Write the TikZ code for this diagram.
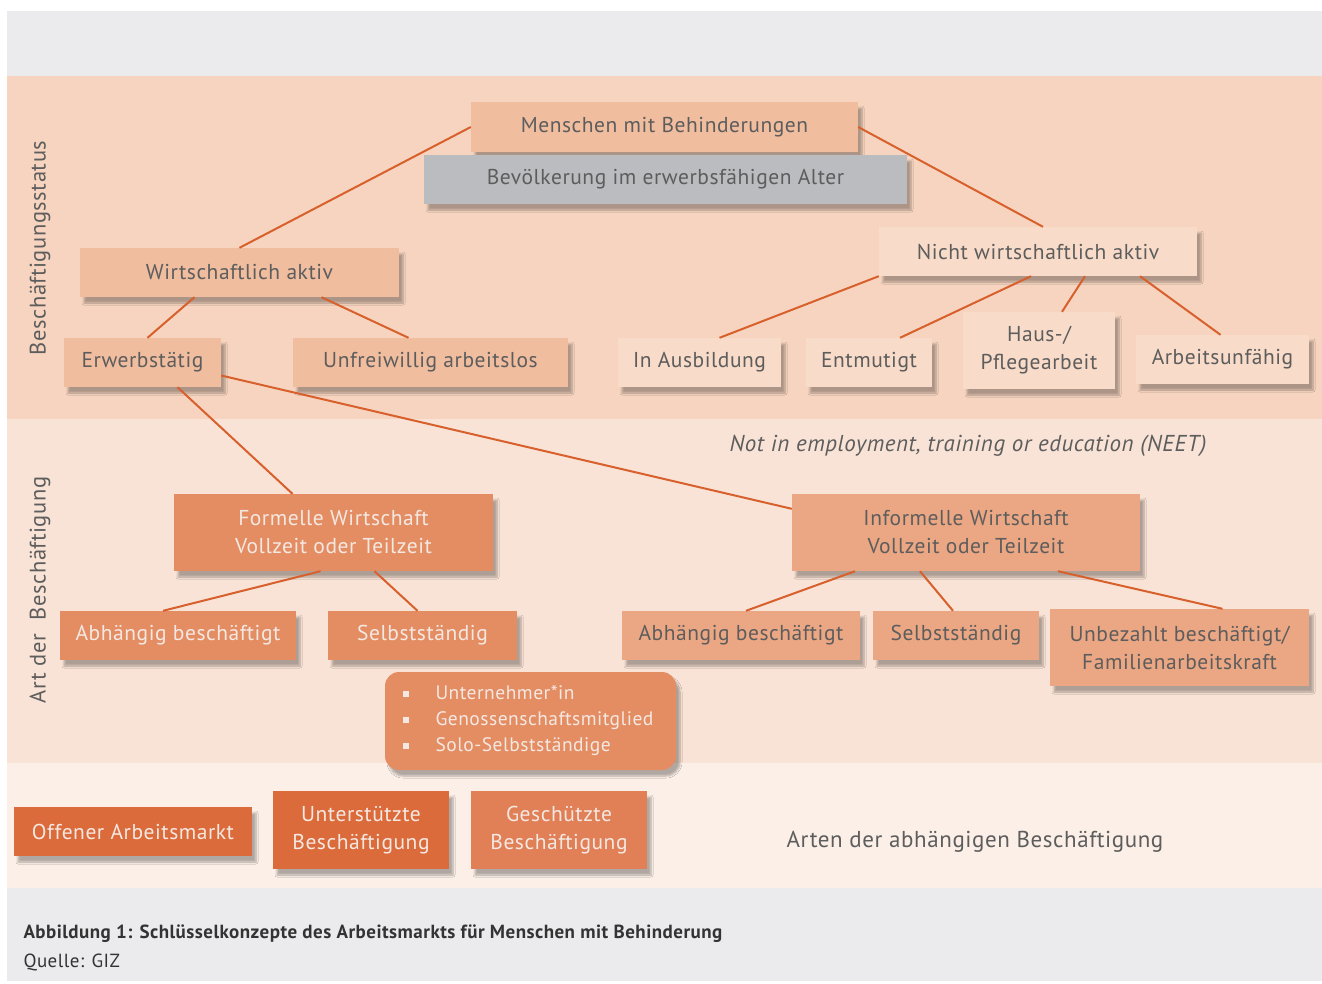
\documentclass[tikz,border=0pt]{standalone}
\usepackage{fontspec}
\setmainfont[LetterSpace=2.5]{PT Sans}
\usetikzlibrary{shadows.blur}

\definecolor{bandgrey}{HTML}{EBEBED}
\definecolor{bandone}{HTML}{F6D4BF}
\definecolor{bandtwo}{HTML}{F9E3D6}
\definecolor{bandthree}{HTML}{FBEFE7}
\definecolor{boxmid}{HTML}{F0BD9F}
\definecolor{boxlight}{HTML}{F8DBC8}
\definecolor{boxgrey}{HTML}{BBBCC0}
\definecolor{boxform}{HTML}{E48D63}
\definecolor{boxinf}{HTML}{EBA783}
\definecolor{boxdark}{HTML}{DC6B3B}
\definecolor{boxprot}{HTML}{E17F57}
\definecolor{linkcol}{HTML}{D8602C}
\definecolor{txtgrey}{HTML}{5D5D5D}
\definecolor{txtlight}{HTML}{F4E8E2}
\definecolor{captxt}{HTML}{333333}

\tikzset{
  bx/.style={rectangle, inner sep=0pt, align=center,
    blur shadow={shadow xshift=4pt, shadow yshift=-6pt, shadow blur steps=6, shadow opacity=30}},
  link/.style={draw=linkcol, line width=2pt}
}

\begin{document}
\begin{tikzpicture}[x=1pt,y=-1pt,
  every node/.style={text=txtgrey, font=\fontsize{21.5}{28}\selectfont}]
    \useasboundingbox (0,0) rectangle (1322,983);
    % bands
    \fill[white] (0,0) rectangle (1322,983);
    \fill[bandgrey] (7,11) rectangle (1322,76);
    \fill[bandone] (7,76) rectangle (1322,419);
    \fill[bandtwo] (7,419) rectangle (1322,763);
    \fill[bandthree] (7,763) rectangle (1322,888);
    \fill[bandgrey] (7,888) rectangle (1322,981);

    \node[rotate=90, font=\fontsize{22.5}{28}\selectfont] (lstatus) at (40,248) {Beschäftigungsstatus};
    \node[rotate=90, font=\fontsize{22.5}{28}\selectfont] (lart) at (40,590) {Art der\hspace{14pt}Beschäftigung};

    % Beschaeftigungsstatus
    \node[bx, fill=boxmid, minimum width=387pt, minimum height=50pt] (men) at (664.5,127) {Menschen mit Behinderungen};
    \node[bx, fill=boxgrey, minimum width=483pt, minimum height=49pt] (bev) at (665.5,179.5) {Bevölkerung im erwerbsfähigen Alter};
    \node[bx, fill=boxmid, minimum width=319pt, minimum height=49pt] (wa) at (239.5,272.5) {Wirtschaftlich aktiv};
    \node[bx, fill=boxlight, minimum width=318pt, minimum height=49pt] (nwa) at (1038,251.5) {Nicht wirtschaftlich aktiv};
    \node[bx, fill=boxmid, minimum width=157pt, minimum height=49pt] (erw) at (142.5,362.5) {Erwerbstätig};
    \node[bx, fill=boxmid, minimum width=275pt, minimum height=49pt] (unf) at (430.5,362.5) {Unfreiwillig arbeitslos};
    \node[bx, fill=boxlight, minimum width=163pt, minimum height=49pt] (ausb) at (699.5,362.5) {In Ausbildung};
    \node[bx, fill=boxlight, minimum width=126pt, minimum height=49pt] (ent) at (869,362.5) {Entmutigt};
    \node[bx, fill=boxlight, minimum width=152pt, minimum height=77pt] (haus) at (1039,350.5) {Haus-/\\Pflegearbeit};
    \node[bx, fill=boxlight, minimum width=173pt, minimum height=49pt] (arb) at (1222.5,359.5) {Arbeitsunfähig};

    \node[font=\itshape\fontsize{23}{28}\selectfont] (neet) at (968,446) {Not in employment, training or education (NEET)};

    % Art der Beschaeftigung
    \node[bx, fill=boxform, text=txtlight, minimum width=319pt, minimum height=77pt] (form) at (333.5,532.5) {Formelle Wirtschaft\\Vollzeit oder Teilzeit};
    \node[bx, fill=boxinf, minimum width=348pt, minimum height=77pt] (inf) at (966,532.5) {Informelle Wirtschaft\\Vollzeit oder Teilzeit};
    \node[bx, fill=boxform, text=txtlight, minimum width=236pt, minimum height=49pt] (abl) at (178,635.5) {Abhängig beschäftigt};
    \node[bx, fill=boxform, text=txtlight, minimum width=189pt, minimum height=49pt] (sel) at (422.5,635.5) {Selbstständig};
    \node[bx, fill=boxinf, minimum width=238pt, minimum height=49pt] (abr) at (741,635.5) {Abhängig beschäftigt};
    \node[bx, fill=boxinf, minimum width=166pt, minimum height=49pt] (ser) at (956,635.5) {Selbstständig};
    \node[bx, fill=boxinf, minimum width=259pt, minimum height=77pt] (unb) at (1179.5,647.5) {Unbezahlt beschäftigt/\\Familienarbeitskraft};
    \node[bx, fill=boxform, text=txtlight, rounded corners=14pt, align=left, text width=256pt, inner xsep=17.5pt,
      minimum height=98pt, font=\fontsize{19.5}{26}\selectfont] (liste) at (530.5,721)
      {\textcolor{txtlight}{\rule[3pt]{6pt}{6pt}}\hspace{27pt}Unternehmer*in\\
       \textcolor{txtlight}{\rule[3pt]{6pt}{6pt}}\hspace{27pt}Genossenschaftsmitglied\\
       \textcolor{txtlight}{\rule[3pt]{6pt}{6pt}}\hspace{27pt}Solo-Selbstständige};

    % Arten der abhaengigen Beschaeftigung
    \node[bx, fill=boxdark, text=txtlight, minimum width=238pt, minimum height=49pt] (offen) at (133,831.5) {Offener Arbeitsmarkt};
    \node[bx, fill=boxdark, text=txtlight, minimum width=176pt, minimum height=78pt] (unt) at (361,830) {Unterstützte\\Beschäftigung};
    \node[bx, fill=boxprot, text=txtlight, minimum width=176pt, minimum height=78pt] (ges) at (559,830) {Geschützte\\Beschäftigung};
    \node[font=\fontsize{23}{28}\selectfont] (arten) at (975,842) {Arten der abhängigen Beschäftigung};

    \node[anchor=west, text=captxt, font=\bfseries\fontsize{19}{22}\selectfont] (cap) at (20,934) {Abbildung 1: Schlüsselkonzepte des Arbeitsmarkts für Menschen mit Behinderung};
    \node[anchor=west, text=captxt, font=\fontsize{19}{22}\selectfont] (quelle) at (20,962) {Quelle: GIZ};

    % connectors
    \draw[link] (men.west) -- (wa.north);
    \draw[link] (men.east) -- ([xshift=5pt]nwa.north);
    \draw[link] ([xshift=-45pt]wa.south) -- ([xshift=5pt]erw.north);
    \draw[link] ([xshift=82pt]wa.south) -- ([xshift=-22pt]unf.north);
    \draw[link] (nwa.south west) -- ([xshift=20pt]ausb.north);
    \draw[link] ([xshift=-7pt]nwa.south) -- ([xshift=31pt]ent.north);
    \draw[link] ([xshift=47pt]nwa.south) -- ([xshift=23pt]haus.north);
    \draw[link] ([xshift=102pt]nwa.south) -- ([xshift=-2pt]arb.north);
    \draw[link] ([xshift=35pt]erw.south) -- ([xshift=-41pt]form.north);
    \draw[link] ([yshift=-13pt]erw.east) -- ([yshift=-15pt]inf.north west);
    \draw[link] ([xshift=-13pt]form.south) -- ([xshift=-15pt]abl.north);
    \draw[link] ([xshift=41pt]form.south) -- ([xshift=-5pt]sel.north);
    \draw[link] ([xshift=-111pt]inf.south) -- ([xshift=5pt]abr.north);
    \draw[link] ([xshift=-46pt]inf.south) -- ([xshift=-3pt]ser.north);
    \draw[link] ([xshift=92pt]inf.south) -- ([xshift=43pt]unb.north);
\end{tikzpicture}
\end{document}
